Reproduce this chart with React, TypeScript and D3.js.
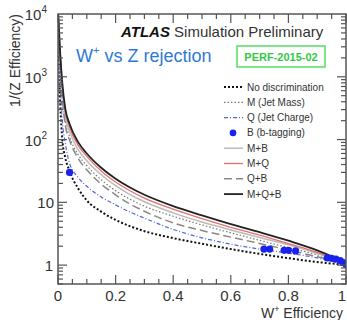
import React from "react";
import * as d3 from "d3";

const xs = [0.001, 0.004, 0.008, 0.015, 0.025, 0.04, 0.07, 0.1, 0.15, 0.2, 0.25, 0.3, 0.4, 0.5, 0.6, 0.7, 0.8, 0.9, 0.95, 1.0];
const noDisc = [7100, 1260, 355, 100, 52, 31.6, 16.6, 10.7, 7.1, 5.25, 4.17, 3.47, 2.69, 2.19, 1.8, 1.51, 1.29, 1.12, 1.06, 1.0];
const qCharge = [7900, 2000, 710, 200, 89, 42, 25, 18, 12.2, 9.1, 7.0, 5.6, 3.7, 2.72, 2.16, 1.8, 1.55, 1.3, 1.15, 1.0];
const qb = [8700, 2750, 1230, 437, 174, 98, 50, 33, 19.5, 13.2, 9.4, 7.2, 4.7, 3.55, 2.79, 2.21, 1.74, 1.36, 1.2, 1.02];
const mMass = [9100, 3160, 1410, 500, 200, 112, 57.5, 38.5, 22.9, 15.3, 11.2, 8.7, 6.0, 4.37, 3.27, 2.48, 1.9, 1.46, 1.26, 1.035];
const mb = [9300, 3800, 1700, 600, 240, 135, 69, 46, 27.5, 18.4, 13.3, 10.2, 6.8, 4.85, 3.63, 2.75, 2.1, 1.53, 1.29, 1.05];
const mq = [9500, 4470, 2000, 708, 282, 158, 81, 54, 31.6, 21.1, 15.3, 11.7, 7.8, 5.5, 4.0, 3.0, 2.2, 1.6, 1.32, 1.07];
const mqb = [9800, 5000, 2240, 795, 316, 178, 91, 60, 35.5, 23.7, 17.2, 13.2, 8.7, 6.2, 4.5, 3.35, 2.45, 1.72, 1.38, 1.07];

const bX = [0.04, 0.715, 0.735, 0.785, 0.8, 0.825, 0.935, 0.95, 0.965, 0.98, 0.99, 1.0];
const bY = [30, 1.8, 1.8, 1.72, 1.72, 1.68, 1.3, 1.28, 1.25, 1.18, 1.1, 1.02];

const xTicks = [0, 0.2, 0.4, 0.6, 0.8, 1];
const xTickLabels = ["0", "0.2", "0.4", "0.6", "0.8", "1"];
const yDecades = [1, 10, 100, 1000, 10000];

const legendLabels = ["No discrimination", "M (Jet Mass)", "Q (Jet Charge)", "B (b-tagging)", "M+B", "M+Q", "Q+B", "M+Q+B"];

const L = 58, R = 346, T = 14, B = 284;

export default function App() {
  const x = d3.scaleLinear().domain([0, 1]).range([L, R]);
  const y = d3.scaleLog().domain([0.5, 10000]).range([B, T]);
  const line = (vals: number[]) =>
    d3.line<number>().x((_, i) => x(xs[i])).y((v) => y(v)).curve(d3.curveMonotoneX)(vals) || "";

  const series = [
    { key: "nodisc", vals: noDisc, stroke: "#111", w: 2, dash: "2,2" },
    { key: "m", vals: mMass, stroke: "#777", w: 1.2, dash: "1.5,2" },
    { key: "q", vals: qCharge, stroke: "#5566e0", w: 1.2, dash: "4,2,1,2" },
    null,
    { key: "mb", vals: mb, stroke: "#bbb", w: 1.5, dash: "" },
    { key: "mq", vals: mq, stroke: "#e07070", w: 1.3, dash: "" },
    { key: "qb", vals: qb, stroke: "#888", w: 1.5, dash: "8,4" },
    { key: "mqb", vals: mqb, stroke: "#222", w: 1.8, dash: "" },
  ];

  const xMinor = d3.range(0, 1.0001, 0.05);
  const yMinor: number[] = [];
  for (let d = 0.1; d < 10000; d *= 10) for (let k = 1; k < 10; k++) { const v = d * k; if (v >= 0.5 && v <= 10000) yMinor.push(v); }

  const legY = (i: number) => 87 + i * 15.3;
  const font = "Liberation Sans, Arial, Helvetica, sans-serif";

  return (
    <svg width={347} height={320} style={{ position: "absolute", left: 0, top: 0, background: "#fff" }} fontFamily={font}>
      <defs>
        <clipPath id="plotclip"><rect x={L} y={T} width={R - L} height={B - T} /></clipPath>
      </defs>
      <rect x={0} y={0} width={347} height={320} fill="#fff" />
      <g clipPath="url(#plotclip)">
        {series.map((s) => s && (
          <path key={s.key} d={line(s.vals)} fill="none" stroke={s.stroke} strokeWidth={s.w} strokeDasharray={s.dash} />
        ))}
        {bX.map((v, i) => (
          <circle key={i} cx={x(v)} cy={y(bY[i])} r={3.6} fill="#1a22ee" />
        ))}
      </g>
      <rect x={L} y={T} width={R - L} height={B - T} fill="none" stroke="#555" strokeWidth={1.5} />
      {xMinor.map((v, i) => {
        const major = Math.abs(v * 5 - Math.round(v * 5)) < 1e-6;
        const len = major ? 9 : 5;
        return (
          <g key={"xt" + i} stroke="#555" strokeWidth={1.2}>
            <line x1={x(v)} x2={x(v)} y1={B} y2={B - len} />
            <line x1={x(v)} x2={x(v)} y1={T} y2={T + len} />
          </g>
        );
      })}
      {yMinor.map((v, i) => {
        const major = yDecades.includes(v);
        const len = major ? 9 : 5;
        return (
          <g key={"yt" + i} stroke="#555" strokeWidth={1.2}>
            <line x1={L} x2={L + len} y1={y(v)} y2={y(v)} />
            <line x1={R} x2={R - len} y1={y(v)} y2={y(v)} />
          </g>
        );
      })}
      {xTicks.map((v, i) => (
        <text key={"xl" + i} x={i === 5 ? 342 : x(v)} y={301} textAnchor="middle" fontSize={15} fill="#333">{xTickLabels[i]}</text>
      ))}
      {yDecades.map((v, i) => (
        <text key={"yl" + i} x={i === 0 ? 53 : i === 1 ? 54 : 47} y={y(v) + 6} textAnchor="end" fontSize={15} fill="#333">
          {i === 0 ? "1" : "10"}
          {i >= 2 && <tspan fontSize={10} dy={-7}>{String(i)}</tspan>}
        </text>
      ))}
      <text x={343} y={318} textAnchor="end" fontSize={14} fill="#333">
        W<tspan fontSize={9} dy={-6}>+</tspan><tspan dy={6}> Efficiency</tspan>
      </text>
      <text transform="translate(20,14) rotate(-90)" textAnchor="end" fontSize={14} fill="#333">1/(Z Efficiency)</text>
      <text x={121} y={37} fontSize={15} fill="#111">
        <tspan fontWeight="bold" fontStyle="italic">ATLAS</tspan>
        <tspan fill="#333"> Simulation Preliminary</tspan>
      </text>
      <text x={76} y={62} fontSize={18} fill="#2f78d8">
        W<tspan fontSize={11} dy={-8}>+</tspan><tspan dy={8}> vs Z rejection</tspan>
      </text>
      <rect x={237} y={46} width={88} height={21} fill="#fff" stroke="#55dd66" strokeWidth={1.5} />
      <text x={281} y={61} textAnchor="middle" fontSize={11} fontWeight="bold" fill="#33c944">PERF-2015-02</text>
      {legendLabels.map((lab, i) => {
        const s = series[i];
        const yy = legY(i);
        return (
          <g key={"lg" + i}>
            {s ? (
              <line x1={224} x2={243} y1={yy} y2={yy} stroke={s.stroke} strokeWidth={s.w} strokeDasharray={s.dash} />
            ) : (
              <circle cx={233} cy={yy} r={3.3} fill="#1a22ee" />
            )}
            <text x={247} y={yy + 3.5} fontSize={10} fill="#333">{lab}</text>
          </g>
        );
      })}
    </svg>
  );
}
